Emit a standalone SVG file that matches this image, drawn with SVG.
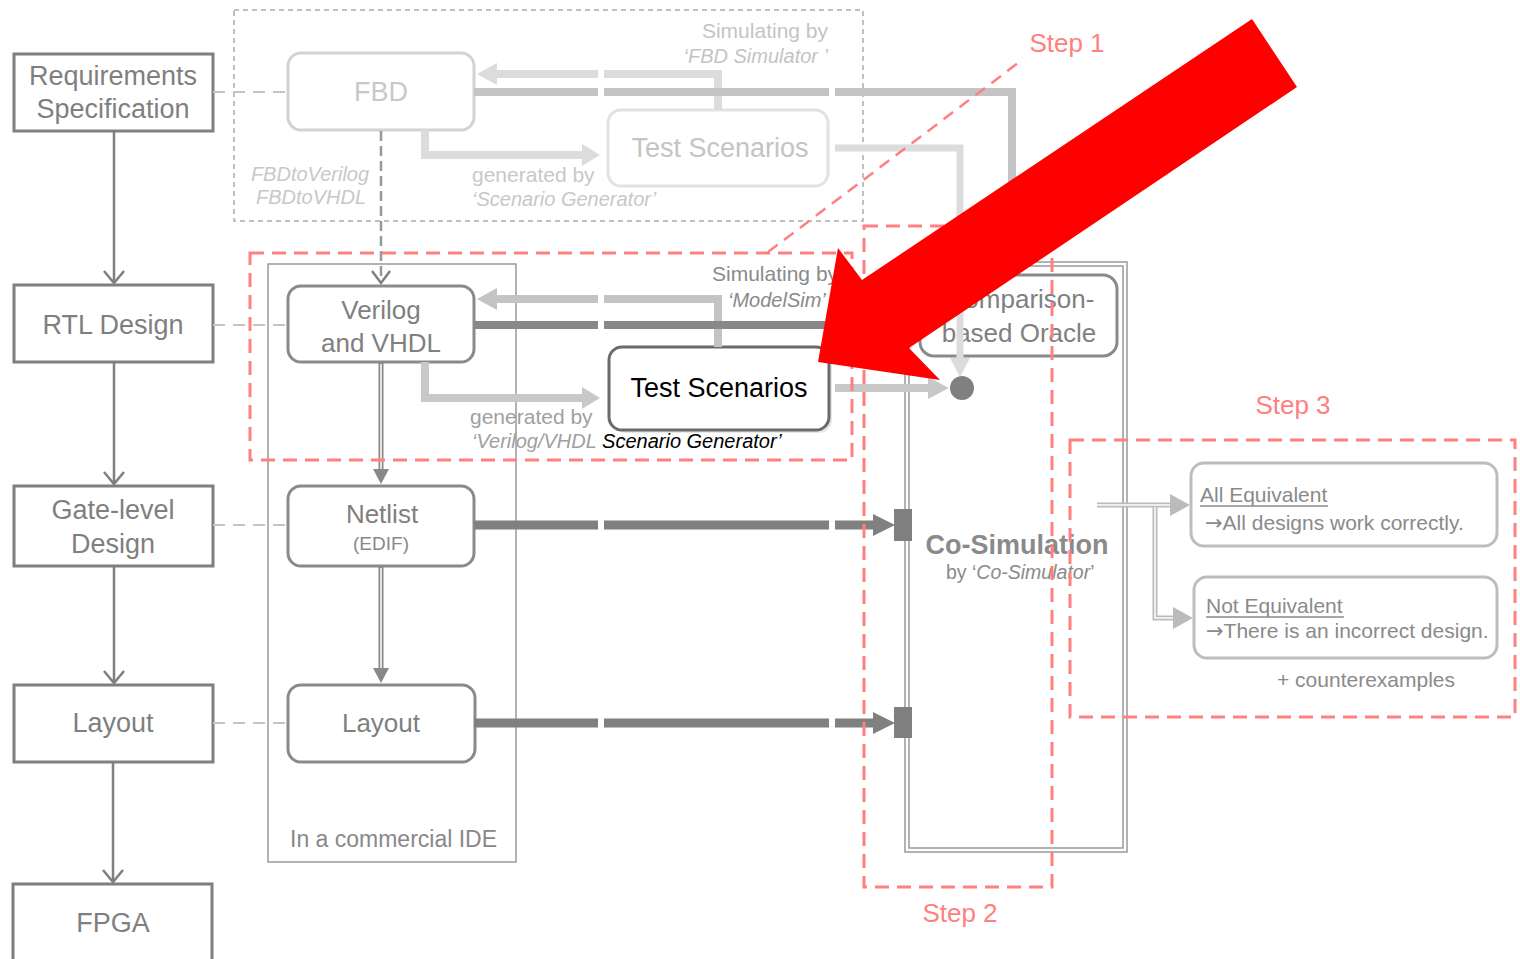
<svg xmlns="http://www.w3.org/2000/svg" width="1520" height="959" viewBox="0 0 1520 959">
<style>
text{font-family:"Liberation Sans",Arial,sans-serif}
.lbox{fill:#fff;stroke:#7f7f7f;stroke-width:3}
.ltxt{fill:#7f7f7f;font-size:27px;text-anchor:middle}
.rbox{fill:#fff;stroke:#8a8a8a;stroke-width:3}
.mtxt{fill:#808080;font-size:26px;text-anchor:middle}
.red{fill:none;stroke:#ff8080;stroke-width:3;stroke-dasharray:14 8}
.reds{fill:#ff8080;font-size:26px;text-anchor:middle}
.vline{fill:none;stroke:#7f7f7f;stroke-width:2.5}
.chev{fill:none;stroke:#7f7f7f;stroke-width:2.5}
.dashc{fill:none;stroke:#c4c4c4;stroke-width:2;stroke-dasharray:12 8}
.s3box{fill:#fff;stroke:#bdbdbd;stroke-width:3}
.s3txt{fill:#8a8a8a;font-size:21px}
.arr{font-family:"DejaVu Sans",sans-serif}
</style>
<rect width="1520" height="959" fill="#fff"/>

<!-- containers -->
<g id="fbd-region">
<rect x="234" y="10" width="629" height="211" fill="none" stroke="#aaa" stroke-width="1.5" stroke-dasharray="5 4"/>
</g>
<g id="ide-region">
<rect x="268" y="264" width="248" height="598" fill="none" stroke="#9a9a9a" stroke-width="1.5"/>
<text x="290" y="847" fill="#888" font-size="23">In  a commercial IDE</text>
</g>
<g id="cosim">
<rect x="905" y="262" width="222" height="590" fill="none" stroke="#999" stroke-width="1.5"/>
<rect x="909" y="266" width="214" height="582" fill="none" stroke="#999" stroke-width="1.5"/>
<text x="1017" y="554" fill="#8a8a8a" font-size="27" font-weight="bold" text-anchor="middle">Co-Simulation</text>
<text x="946" y="579" fill="#8a8a8a" font-size="19.5">by ‘<tspan font-style="italic">Co-Simulator</tspan>’</text>
</g>
<g id="oracle">
<rect x="920" y="275" width="197" height="81" rx="14" fill="none" stroke="#8a8a8a" stroke-width="3"/>
<text x="1020" y="308" class="mtxt" font-size="27">Comparison-</text>
<text x="1019" y="342" class="mtxt" font-size="27">based Oracle</text>
</g>

<!-- left column -->
<g id="req"><rect class="lbox" x="14" y="54" width="199" height="77"/><text class="ltxt" x="113" y="85">Requirements</text><text class="ltxt" x="113" y="118">Specification</text></g>
<g id="rtl"><rect class="lbox" x="14" y="285" width="199" height="77"/><text class="ltxt" x="113" y="334">RTL Design</text></g>
<g id="gate"><rect class="lbox" x="14" y="486" width="199" height="80"/><text class="ltxt" x="113" y="519">Gate-level</text><text class="ltxt" x="113" y="553">Design</text></g>
<g id="layoutL"><rect class="lbox" x="14" y="685" width="199" height="77"/><text class="ltxt" x="113" y="732">Layout</text></g>
<g id="fpga"><rect class="lbox" x="13" y="884" width="199" height="90"/><text class="ltxt" x="113" y="932">FPGA</text></g>

<!-- middle nodes -->
<g id="fbd"><rect x="288" y="53" width="186" height="77" rx="13" fill="#fff" stroke="#d2d2d2" stroke-width="3"/><text x="381" y="101" font-size="27" text-anchor="middle" fill="#c8c8c8">FBD</text></g>
<g id="ts-top"><rect x="608" y="110" width="220" height="76" rx="13" fill="#fff" stroke="#e2e2e2" stroke-width="3"/><text x="720" y="157" font-size="27" text-anchor="middle" fill="#c4c4c4">Test Scenarios</text></g>
<g id="verilog"><rect class="rbox" x="288" y="286" width="186" height="76" rx="13"/><text class="mtxt" x="381" y="319" font-size="27">Verilog</text><text class="mtxt" x="381" y="352" font-size="27">and VHDL</text></g>
<g id="ts"><rect x="612" y="350" width="220" height="83" rx="13" fill="#e8e8e8" stroke="none"/><rect x="609" y="347" width="220" height="83" rx="13" fill="#fff" stroke="#6a6a6a" stroke-width="3"/><text x="719" y="397" font-size="27" text-anchor="middle" fill="#000">Test Scenarios</text></g>
<g id="netlist"><rect class="rbox" x="288" y="486" width="186" height="80" rx="13"/><text class="mtxt" x="382" y="523">Netlist</text><text x="381" y="550" font-size="19" text-anchor="middle" fill="#888">(EDIF)</text></g>
<g id="layoutM"><rect class="rbox" x="288" y="685" width="187" height="77" rx="13"/><text class="mtxt" x="381" y="732" font-size="27">Layout</text></g>
<g id="dot"><circle cx="962" cy="388" r="12" fill="#808080"/></g>
<g id="alleq"><rect class="s3box" x="1191" y="463" width="306" height="83" rx="13"/>
<text class="s3txt" x="1200" y="502" font-size="22">All Equivalent</text>
<line x1="1200" y1="506" x2="1328" y2="506" stroke="#8a8a8a" stroke-width="1.5"/>
<text class="s3txt" x="1205" y="530" font-size="20"><tspan class="arr">→</tspan>All designs work correctly.</text></g>
<g id="noteq"><rect class="s3box" x="1194" y="577" width="303" height="81" rx="13"/>
<text class="s3txt" x="1206" y="613" font-size="22">Not Equivalent</text>
<line x1="1206" y1="617" x2="1344" y2="617" stroke="#8a8a8a" stroke-width="1.5"/>
<text class="s3txt" x="1206" y="638" font-size="20.5"><tspan class="arr">→</tspan>There is an incorrect design.</text></g>
<g id="counter"><text class="s3txt" x="1277" y="687" font-size="23">+ counterexamples</text></g>

<!-- labels -->
<g id="labels">
<text x="828" y="38" font-size="21" text-anchor="end" fill="#c4c4c4">Simulating by</text>
<text x="828" y="63" font-size="20" text-anchor="end" fill="#c4c4c4" font-style="italic">‘FBD Simulator ’</text>
<text x="310" y="181" font-size="20" text-anchor="middle" fill="#c8c8c8" font-style="italic">FBDtoVerilog</text>
<text x="311" y="204" font-size="20" text-anchor="middle" fill="#c8c8c8" font-style="italic">FBDtoVHDL</text>
<text x="472" y="182" font-size="21" fill="#c8c8c8">generated by</text>
<text x="472" y="206" font-size="20" fill="#c8c8c8" font-style="italic">‘Scenario Generator’</text>
<text x="712" y="281" font-size="21" fill="#8a8a8a">Simulating by</text>
<text x="728" y="307" font-size="20" fill="#8a8a8a" font-style="italic">‘ModelSim’</text>
<text x="470" y="424" font-size="21" fill="#a0a0a0">generated by</text>
<text x="472" y="448" font-size="20" font-style="italic" fill="#a0a0a0">‘Verilog/VHDL <tspan fill="#000">Scenario Generator’</tspan></text>
</g>

<!-- connectors -->
<g id="connectors">
<path class="vline" d="M114,131V282M114,362V484M114,566V683M113,762V882"/>
<path class="chev" d="M104,271L114,283L124,271M104,472L114,484L124,472M104,671L114,683L124,671M103,870L113,882L123,870"/>
<path class="dashc" d="M213,92H288M213,325H288M213,525H288M213,723H288"/>
<path d="M381,131V282" fill="none" stroke="#999" stroke-width="2.5" stroke-dasharray="10 5"/>
<path class="chev" d="M372,271L381,283L390,271" stroke="#999"/>
<path d="M718,110V74H604M598,74H495" fill="none" stroke="#dcdcdc" stroke-width="8"/>
<path d="M477,74L497,63V85Z" fill="#dcdcdc"/>
<path d="M474,92H598M604,92H829M835,92H1012V273" fill="none" stroke="#c4c4c4" stroke-width="8"/>
<path d="M425,130V155H585" fill="none" stroke="#dcdcdc" stroke-width="8"/>
<path d="M600,155L582,144V166Z" fill="#dcdcdc"/>
<path d="M835,148H960V360" fill="none" stroke="#dcdcdc" stroke-width="7"/>
<path d="M960,377L950,358H970Z" fill="#dcdcdc"/>
<path d="M718,347V299H604M598,299H495" fill="none" stroke="#c4c4c4" stroke-width="8"/>
<path d="M477,299L497,288V310Z" fill="#c4c4c4"/>
<path d="M474,325H598M604,325H829M835,325H930" fill="none" stroke="#888" stroke-width="8"/>
<path d="M425,362V398H585" fill="none" stroke="#c8c8c8" stroke-width="8"/>
<path d="M600,398L582,387V409Z" fill="#c8c8c8"/>
<path d="M835,388H930" fill="none" stroke="#c8c8c8" stroke-width="8"/>
<path d="M949,388L928,377V399Z" fill="#c8c8c8"/>
<path d="M381,362V472M381,566V671" fill="none" stroke="#888" stroke-width="5"/>
<path d="M381,364V472M381,568V671" fill="none" stroke="#fff" stroke-width="1.5"/>
<path d="M381,484L373,469H389ZM381,683L373,668H389Z" fill="#888"/>
<path d="M474,525H598M604,525H829M835,525H876M474,723H598M604,723H829M835,723H876" fill="none" stroke="#808080" stroke-width="9"/>
<path d="M895,525L873,514V536ZM895,723L873,712V734Z" fill="#808080"/>
<rect x="894" y="509" width="18" height="32" fill="#808080"/>
<rect x="894" y="707" width="18" height="31" fill="#808080"/>
<path d="M1097,505H1172M1155,505V618H1175" fill="none" stroke="#bbb" stroke-width="5"/>
<path d="M1097,505H1172M1155,507V618H1175" fill="none" stroke="#fff" stroke-width="1.5"/>
<path d="M1190,505L1170,494V516ZM1193,618L1173,607V629Z" fill="#bbb"/>
</g>

<!-- steps -->
<g id="step1">
<rect class="red" x="250" y="253" width="602" height="207"/>
<path d="M768,252L1022,60" fill="none" stroke="#ff8080" stroke-width="2.5" stroke-dasharray="12 8"/>
<text class="reds" x="1067" y="52">Step 1</text>
</g>
<g id="step2">
<rect class="red" x="864" y="226" width="188" height="661"/>
<text class="reds" x="960" y="922">Step 2</text>
</g>
<g id="step3">
<rect class="red" x="1070" y="440" width="445" height="277"/>
<text class="reds" x="1293" y="414">Step 3</text>
</g>

<!-- big red pointer -->
<g id="pointer">
<polygon points="818,362 838,248 862,280 1252,19 1297,87 909,348 940,380" fill="#ff0000"/>
</g>
</svg>
